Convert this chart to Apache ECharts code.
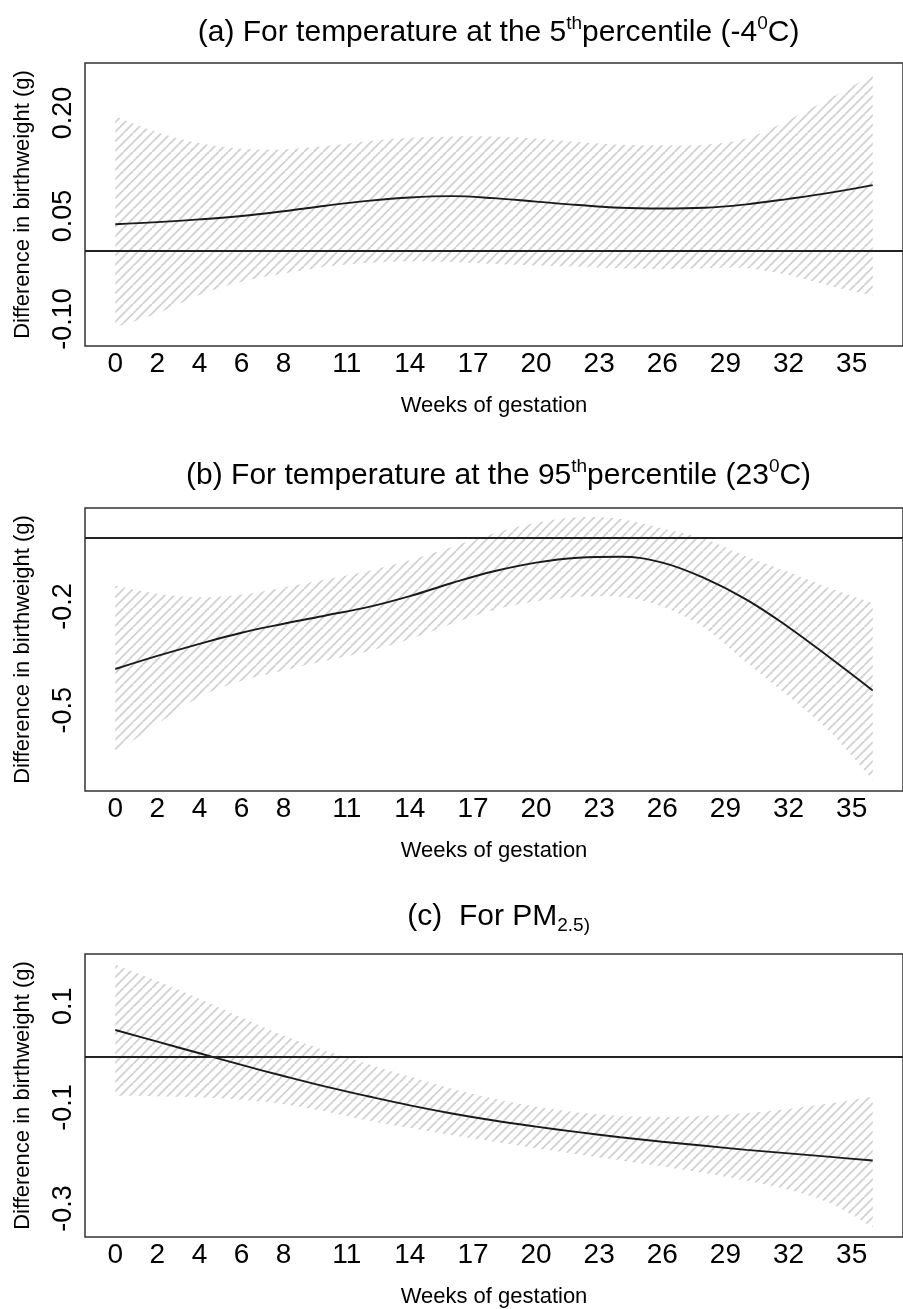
<!DOCTYPE html>
<html>
<head>
<meta charset="utf-8">
<style>
  html, body { margin: 0; padding: 0; background: #ffffff; }
  #chart { width: 903px; height: 1309px; }
</style>
<script src="https://cdn.jsdelivr.net/npm/echarts@6/dist/echarts.min.js"></script>
</head>
<body>
<div id="chart"></div>
<script>
// Weeks of gestation at which the lag curves are evaluated
const weeks = [0, 2, 4, 6, 8, 10, 12, 14, 16, 18, 20, 22, 24, 26, 28, 30, 32, 34, 36];
const weekTicks = [0, 2, 4, 6, 8, 11, 14, 17, 20, 23, 26, 29, 32, 35];

// (a) cold: temperature at the 5th percentile (-4 C)
const coldEstimate = [0.038, 0.041, 0.045, 0.050, 0.057, 0.065, 0.072, 0.077, 0.079, 0.076, 0.071, 0.066, 0.062, 0.061, 0.062, 0.067, 0.075, 0.084, 0.095];
const coldUpper    = [0.195, 0.172, 0.156, 0.148, 0.147, 0.152, 0.159, 0.164, 0.166, 0.166, 0.163, 0.158, 0.154, 0.153, 0.154, 0.163, 0.190, 0.222, 0.255];
const coldLower    = [-0.112, -0.092, -0.065, -0.046, -0.034, -0.024, -0.018, -0.016, -0.017, -0.020, -0.022, -0.024, -0.026, -0.027, -0.026, -0.026, -0.036, -0.052, -0.066];
const coldTicks    = [-0.10, 0.05, 0.20];

// (b) heat: temperature at the 95th percentile (23 C)
const hotEstimate = [-0.381, -0.343, -0.308, -0.276, -0.250, -0.226, -0.202, -0.170, -0.132, -0.098, -0.073, -0.059, -0.056, -0.073, -0.118, -0.180, -0.260, -0.350, -0.443];
const hotUpper    = [-0.140, -0.163, -0.173, -0.166, -0.145, -0.122, -0.097, -0.066, -0.028, 0.012, 0.042, 0.058, 0.053, 0.026, -0.004, -0.055, -0.100, -0.148, -0.190];
const hotLower    = [-0.623, -0.540, -0.462, -0.415, -0.385, -0.357, -0.330, -0.295, -0.250, -0.210, -0.185, -0.172, -0.172, -0.200, -0.262, -0.362, -0.460, -0.565, -0.702];
const hotTicks    = [-0.5, -0.2];

// (c) PM2.5
const pmEstimate = [0.053, 0.030, 0.007, -0.016, -0.038, -0.059, -0.078, -0.096, -0.112, -0.126, -0.138, -0.149, -0.159, -0.168, -0.176, -0.184, -0.191, -0.198, -0.205];
const pmUpper    = [0.182, 0.150, 0.115, 0.078, 0.042, 0.012, -0.014, -0.039, -0.063, -0.083, -0.099, -0.110, -0.117, -0.119, -0.117, -0.111, -0.103, -0.092, -0.079];
const pmLower    = [-0.077, -0.078, -0.080, -0.085, -0.094, -0.108, -0.126, -0.141, -0.155, -0.168, -0.181, -0.193, -0.205, -0.217, -0.230, -0.245, -0.263, -0.290, -0.337];
const pmTicks    = [-0.3, -0.1, 0.1];

const FONT = "'Liberation Sans', Arial, Helvetica, sans-serif";

// Diagonal hatching used to fill the confidence bands
function makeHatch() {
  const size = 19, gap = 9.5;
  const c = document.createElement('canvas');
  c.width = size; c.height = size;
  const ctx = c.getContext('2d');
  ctx.strokeStyle = '#d2d2d2';
  ctx.lineWidth = 1.9;
  for (let x0 = -2 * size; x0 <= 2 * size; x0 += gap) {
    ctx.beginPath();
    ctx.moveTo(x0, size);
    ctx.lineTo(x0 + size, 0);
    ctx.stroke();
  }
  return c;
}
const hatch = { image: makeHatch(), repeat: 'repeat' };

// Catmull-Rom style cubic segments through already projected points
function curveSegments(pts) {
  let d = '';
  for (let i = 0; i < pts.length - 1; i++) {
    const p0 = pts[i - 1] || pts[i], p1 = pts[i], p2 = pts[i + 1], p3 = pts[i + 2] || pts[i + 1];
    const c1 = [p1[0] + (p2[0] - p0[0]) / 6, p1[1] + (p2[1] - p0[1]) / 6];
    const c2 = [p2[0] - (p3[0] - p1[0]) / 6, p2[1] - (p3[1] - p1[1]) / 6];
    d += ' C' + c1[0] + ' ' + c1[1] + ' ' + c2[0] + ' ' + c2[1] + ' ' + p2[0] + ' ' + p2[1];
  }
  return d;
}

const panels = [
  { top: 63,  yMin: -0.1395, yMax: 0.273,  ticks: coldTicks, digits: 2, est: coldEstimate, up: coldUpper, lo: coldLower },
  { top: 508, yMin: -0.734,  yMax: 0.085,  ticks: hotTicks,  digits: 1, est: hotEstimate,  up: hotUpper,  lo: hotLower },
  { top: 954, yMin: -0.3564, yMax: 0.2034, ticks: pmTicks,   digits: 1, est: pmEstimate,   up: pmUpper,   lo: pmLower }
];

const grids = [], xAxes = [], yAxes = [], series = [];
panels.forEach((p, i) => {
  grids.push({
    left: 85, top: p.top, width: 827, height: 283,
    show: true, borderColor: '#333333', borderWidth: 1.5, backgroundColor: 'transparent'
  });
  xAxes.push({
    type: 'value', gridIndex: i, min: -1.44, max: 37.44,
    axisLine: { show: false }, axisTick: { show: false }, splitLine: { show: false },
    axisLabel: { customValues: weekTicks, fontSize: 28, color: '#000', margin: 4, fontFamily: FONT },
    name: 'Weeks of gestation', nameLocation: 'middle', nameGap: 49,
    nameTextStyle: { fontSize: 22, color: '#000', fontFamily: FONT }
  });
  yAxes.push({
    type: 'value', gridIndex: i, min: p.yMin, max: p.yMax,
    axisLine: { show: false }, axisTick: { show: false }, splitLine: { show: false },
    axisLabel: {
      customValues: p.ticks, rotate: 90, fontSize: 27, color: '#000', margin: 8, fontFamily: FONT,
      formatter: v => Number(v).toFixed(p.digits)
    },
    name: 'Difference in birthweight (g)', nameLocation: 'middle', nameGap: 51,
    nameTextStyle: { fontSize: 22, color: '#000', fontFamily: FONT }
  });
  // hatched confidence band between upper and lower limits
  series.push({
    type: 'custom', xAxisIndex: i, yAxisIndex: i, silent: true, z: 1,
    data: weeks.map((w, k) => [w, p.up[k], p.lo[k]]),
    renderItem: (params, api) => {
      if (params.dataIndex !== 0) return;
      const upPts = weeks.map((w, k) => api.coord([w, p.up[k]]));
      const loPts = weeks.map((w, k) => api.coord([w, p.lo[k]])).reverse();
      const d = 'M' + upPts[0][0] + ' ' + upPts[0][1] + curveSegments(upPts) +
                ' L' + loPts[0][0] + ' ' + loPts[0][1] + curveSegments(loPts) + ' Z';
      return { type: 'path', shape: { pathData: d }, style: { fill: hatch, stroke: null } };
    }
  });
  // point estimate and the zero reference line
  series.push({
    type: 'line', xAxisIndex: i, yAxisIndex: i, z: 3, silent: true,
    data: weeks.map((w, k) => [w, p.est[k]]),
    smooth: 0.4, symbol: 'none',
    lineStyle: { color: '#1a1a1a', width: 1.9 },
    markLine: {
      silent: true, symbol: 'none', animation: false,
      label: { show: false },
      lineStyle: { color: '#222', width: 1.8, type: 'solid' },
      data: [{ yAxis: 0 }]
    }
  });
});

const titleRich = {
  sup: { fontSize: 19, lineHeight: 19, verticalAlign: 'top', fontFamily: FONT, fill: '#000' },
  sub: { fontSize: 19, lineHeight: 19, verticalAlign: 'bottom', fontFamily: FONT, fill: '#000' }
};
function titleText(text, y) {
  return {
    type: 'text', x: 498.6, y: y, silent: true,
    style: {
      text: text, fill: '#000', fontSize: 30, fontFamily: FONT, lineHeight: 37,
      align: 'center', verticalAlign: 'middle', rich: titleRich
    }
  };
}

const chart = echarts.init(document.getElementById('chart'), null, { renderer: 'canvas' });
chart.setOption({
  animation: false,
  backgroundColor: '#ffffff',
  grid: grids,
  xAxis: xAxes,
  yAxis: yAxes,
  series: series,
  graphic: [
    titleText('(a) For temperature at the 5{sup|th}percentile (-4{sup|0}C)', 33),
    titleText('(b) For temperature at the 95{sup|th}percentile (23{sup|0}C)', 476),
    titleText('(c)  For PM{sub|2.5)}', 917)
  ]
});
</script>
</body>
</html>
